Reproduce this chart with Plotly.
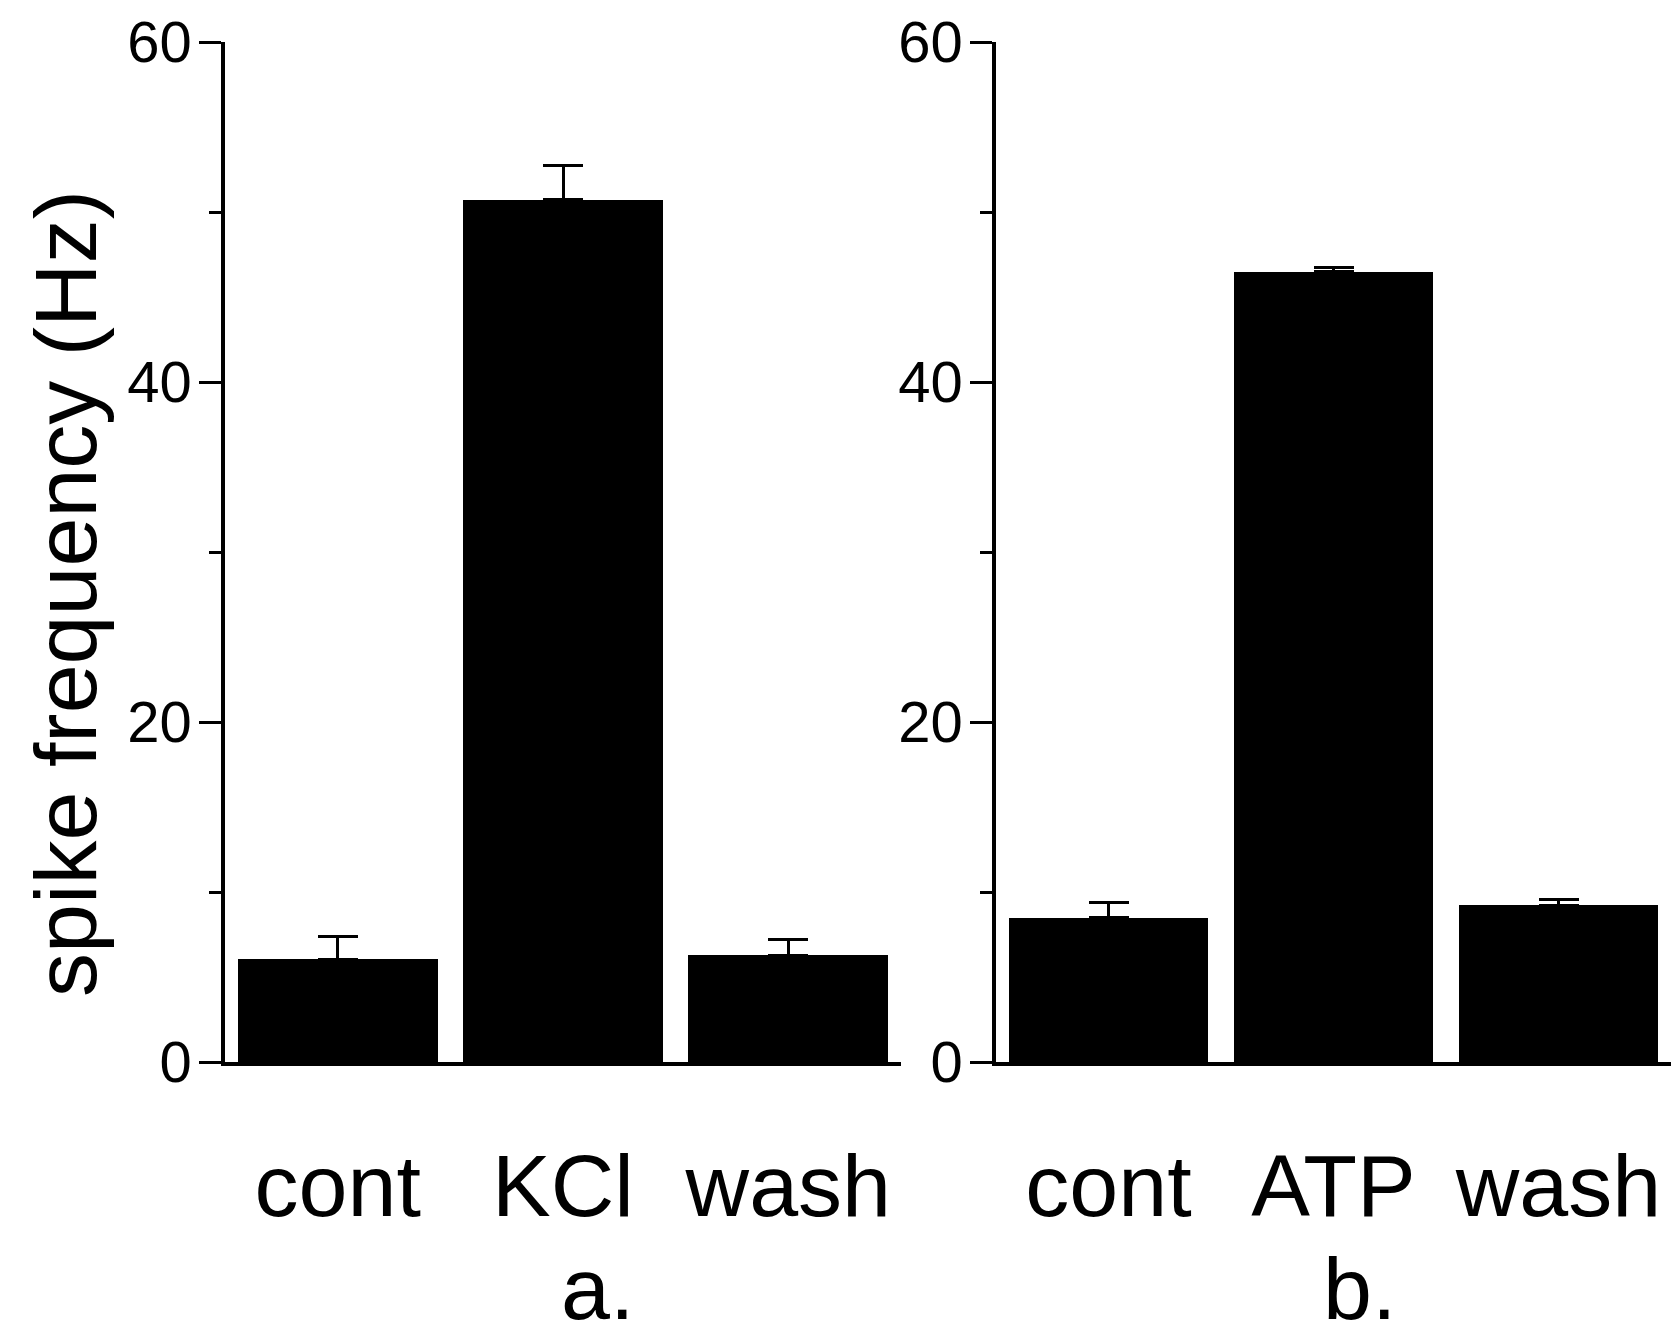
import plotly.graph_objects as go

# ---- data ----
cats_a = ["cont", "KCl", "wash"]
cats_b = ["cont", "ATP", "wash"]
vals_a = [6.03, 50.73, 6.28]
err_a = [1.38, 2.03, 0.94]
vals_b = [8.5, 46.5, 9.23]
err_b = [0.86, 0.25, 0.32]
y_ticks = [0, 20, 40, 60]
panel_labels = ["a.", "b."]
y_title = "spike frequency (Hz)"

W, H = 1671, 1339
FONT = "Liberation Sans, Arial, Helvetica, sans-serif"

fig = go.Figure()
for i, (cats, vals, errs) in enumerate([(cats_a, vals_a, err_a), (cats_b, vals_b, err_b)]):
    xa = "x" if i == 0 else "x2"
    ya = "y" if i == 0 else "y2"
    fig.add_trace(go.Bar(
        x=list(range(len(cats))), y=vals, xaxis=xa, yaxis=ya,
        width=0.887,
        marker=dict(color="black", line=dict(width=0)),
        error_y=dict(type="data", array=errs, arrayminus=[0] * len(errs),
                     symmetric=False, color="black", thickness=3, width=20),
        showlegend=False,
    ))

yd = [(H - 1062) / H, (H - 42) / H]
xd_a = [225 / W, 901 / W]
xd_b = [996 / W, 1.0]

def xaxis(domain, anchor, cats):
    return dict(domain=domain, anchor=anchor, range=[-0.5, 2.5], automargin=False,
                showline=True, linecolor="black", linewidth=3.5,
                ticks="", tickmode="array", tickvals=list(range(len(cats))),
                ticktext=cats, tickfont=dict(family=FONT, size=88, color="black"),
                ticklabelstandoff=45, showgrid=False, zeroline=False, fixedrange=True)

def yaxis(anchor):
    return dict(domain=yd, anchor=anchor, range=[0, 60], automargin=False,
                showline=True, linecolor="black", linewidth=3.5,
                ticks="outside", ticklen=22, tickwidth=3, tickcolor="black",
                tickmode="array", tickvals=y_ticks,
                minor=dict(ticks="outside", ticklen=12, tickwidth=3, tickcolor="black", dtick=10, tick0=0),
                tickfont=dict(family=FONT, size=58, color="black"),
                ticklabelstandoff=-4,
                showgrid=False, zeroline=False, fixedrange=True)

fig.update_layout(
    width=W, height=H,
    margin=dict(l=0, r=0, t=0, b=0, autoexpand=False),
    paper_bgcolor="white", plot_bgcolor="white",
    xaxis=xaxis(xd_a, "y", cats_a),
    xaxis2=xaxis(xd_b, "y2", cats_b),
    yaxis=yaxis("x"),
    yaxis2=yaxis("x2"),
    bargap=0,
    annotations=[
        dict(text=y_title, xref="paper", yref="paper", x=66 / W, y=1 - 594 / H,
             textangle=-90, showarrow=False, xanchor="center", yanchor="middle",
             font=dict(family=FONT, size=88, color="black")),
        dict(text=panel_labels[0], xref="paper", yref="paper", x=597 / W, y=0,
             showarrow=False, xanchor="center", yanchor="bottom", borderpad=0,
             font=dict(family=FONT, size=88, color="black")),
        dict(text=panel_labels[1], xref="paper", yref="paper", x=1359 / W, y=0,
             showarrow=False, xanchor="center", yanchor="bottom", borderpad=0,
             font=dict(family=FONT, size=88, color="black")),
    ],
)

fig.write_html("out.html")
